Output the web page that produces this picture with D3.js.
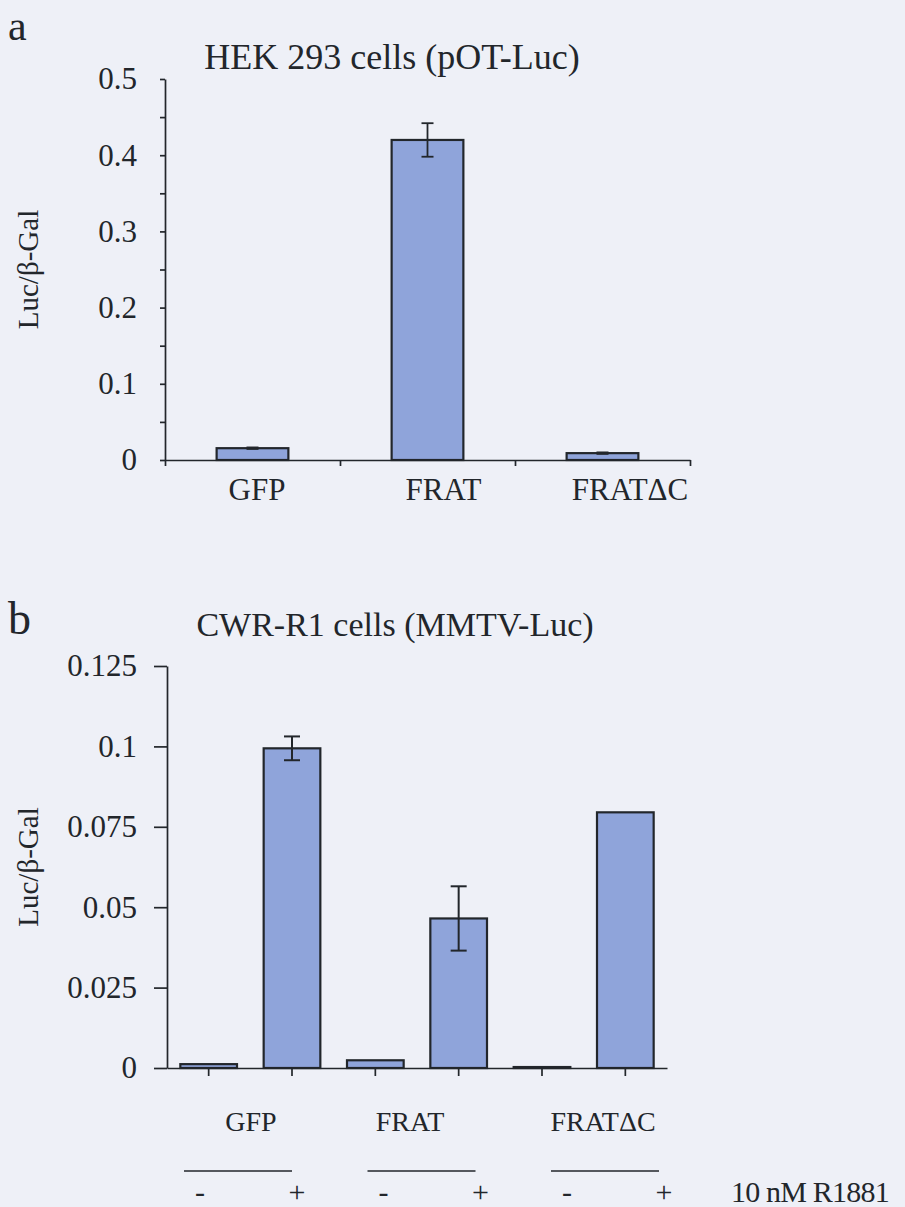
<!DOCTYPE html>
<html>
<head>
<meta charset="utf-8">
<script src="https://cdn.jsdelivr.net/npm/d3@7"></script>
<style>
  body { margin: 0; background: #eef0f7; }
  svg { display: block; }
  text { font-family: "Liberation Serif", "Tinos", "Times New Roman", "DejaVu Serif", serif; fill: #22262b; }
  .axis path, .axis line { stroke: #22262b; stroke-width: 1.7; }
</style>
</head>
<body>
<div id="chart"></div>
<script>
// panel a data
const catsA = ["GFP", "FRAT", "FRATΔC"];
const valsA = [0.0155, 0.420, 0.009];
const errA = [0.001, 0.022, 0.001];
const ticksA = [0, 0.05, 0.1, 0.15, 0.2, 0.25, 0.3, 0.35, 0.4, 0.45, 0.5];

// panel b data
const groupsB = ["GFP", "FRAT", "FRATΔC"];
const treatB = ["-", "+"];
const valsB = [0.0012, 0.0994, 0.0024, 0.0465, 0.0003, 0.0795];
const errB = [0, 0.0037, 0, 0.0100, 0, 0];
const ticksB = [0, 0.025, 0.05, 0.075, 0.1, 0.125];

const W = 905, H = 1207;
const ink = "#22262b";
const barFill = "#8fa4da";
const serif = '"Liberation Serif", "Tinos", "Times New Roman", "DejaVu Serif", serif';

const svg = d3.select("#chart").append("svg")
    .attr("width", W).attr("height", H)
    .attr("font-family", serif);

svg.append("rect").attr("width", W).attr("height", H).attr("fill", "#eef0f7");

/* ---------- panel a ---------- */
const a = {left: 165, right: 690, top: 79, bottom: 460};

let yA = d3.scaleLinear().domain([0, 0.5]).range([a.bottom, a.top]);
let xA = d3.scaleBand().domain(catsA).range([a.left, a.right])
    .paddingInner(0.59).paddingOuter(0.295);
let xALin = d3.scaleLinear().domain([0, catsA.length]).range([a.left, a.right]);

svg.append("text").attr("x", 8).attr("y", 40)
    .attr("font-size", 42).text("a");

svg.append("text").attr("x", 392).attr("y", 69)
    .attr("text-anchor", "middle").attr("font-size", 36)
    .text("HEK 293 cells (pOT-Luc)");

svg.append("text")
    .attr("transform", `translate(38,${(a.top + a.bottom) / 2}) rotate(-90)`)
    .attr("text-anchor", "middle").attr("font-size", 29)
    .text("Luc/β-Gal");

// bars
svg.append("g").selectAll("rect").data(catsA).enter().append("rect")
    .attr("x", d => xA(d))
    .attr("width", xA.bandwidth())
    .attr("y", (d, i) => yA(valsA[i]))
    .attr("height", (d, i) => yA(0) - yA(valsA[i]))
    .attr("fill", barFill).attr("stroke", ink).attr("stroke-width", 2.2);

// error bars
let errGA = svg.append("g").attr("stroke", ink).attr("stroke-width", 1.8);
catsA.forEach((c, i) => {
    let cx = xA(c) + xA.bandwidth() / 2;
    let hi = yA(valsA[i] + errA[i]), lo = yA(valsA[i] - errA[i]);
    errGA.append("line").attr("x1", cx).attr("x2", cx).attr("y1", hi).attr("y2", lo);
    errGA.append("line").attr("x1", cx - 6).attr("x2", cx + 6).attr("y1", hi).attr("y2", hi);
    errGA.append("line").attr("x1", cx - 6).attr("x2", cx + 6).attr("y1", lo).attr("y2", lo);
});

// y axis
svg.append("g").attr("class", "axis")
    .attr("transform", `translate(${a.left},0)`)
    .call(d3.axisLeft(yA).tickValues(ticksA).tickSize(5).tickSizeOuter(0).tickPadding(23)
        .tickFormat(d => Math.round(d * 100) % 10 === 0 ? String(+d.toFixed(1)) : ""))
    .call(g => g.attr("font-family", serif))
    .call(g => g.selectAll("text").attr("font-size", 31).attr("fill", ink));

// x axis, ticks between categories
svg.append("g").attr("class", "axis")
    .attr("transform", `translate(0,${a.bottom})`)
    .call(d3.axisBottom(xALin).tickValues(d3.range(0, catsA.length + 1)).tickSize(6)
        .tickSizeOuter(0).tickFormat(""));

let labelXA = d3.scaleLinear().domain([0, 2]).range([257, 630]);
svg.append("g").selectAll("text").data(catsA).enter().append("text")
    .attr("x", (d, i) => labelXA(i)).attr("y", 500)
    .attr("text-anchor", "middle").attr("font-size", 31)
    .text(d => d);

/* ---------- panel b ---------- */
const b = {left: 167, right: 667, top: 666, bottom: 1068};
const slotsB = [];
groupsB.forEach(g => treatB.forEach(t => slotsB.push(g + t)));

let yB = d3.scaleLinear().domain([0, 0.125]).range([b.bottom, b.top]);
let xB = d3.scaleBand().domain(slotsB).range([b.left, b.right])
    .paddingInner(0.32).paddingOuter(0.16);

svg.append("text").attr("x", 8).attr("y", 634)
    .attr("font-size", 46).text("b");

svg.append("text").attr("x", 395).attr("y", 636)
    .attr("text-anchor", "middle").attr("font-size", 34)
    .text("CWR-R1 cells (MMTV-Luc)");

svg.append("text")
    .attr("transform", `translate(38,${(b.top + b.bottom) / 2}) rotate(-90)`)
    .attr("text-anchor", "middle").attr("font-size", 29)
    .text("Luc/β-Gal");

svg.append("g").selectAll("rect").data(slotsB).enter().append("rect")
    .attr("x", d => xB(d))
    .attr("width", xB.bandwidth())
    .attr("y", (d, i) => yB(valsB[i]))
    .attr("height", (d, i) => yB(0) - yB(valsB[i]))
    .attr("fill", barFill).attr("stroke", ink).attr("stroke-width", 2.2);

let errGB = svg.append("g").attr("stroke", ink).attr("stroke-width", 2);
slotsB.forEach((s, i) => {
    if (!errB[i]) return;
    let cx = xB(s) + xB.bandwidth() / 2;
    let hi = yB(valsB[i] + errB[i]), lo = yB(valsB[i] - errB[i]);
    errGB.append("line").attr("x1", cx).attr("x2", cx).attr("y1", hi).attr("y2", lo);
    errGB.append("line").attr("x1", cx - 8).attr("x2", cx + 8).attr("y1", hi).attr("y2", hi);
    errGB.append("line").attr("x1", cx - 8).attr("x2", cx + 8).attr("y1", lo).attr("y2", lo);
});

svg.append("g").attr("class", "axis")
    .attr("transform", `translate(${b.left},0)`)
    .call(d3.axisLeft(yB).tickValues(ticksB).tickSize(13).tickSizeOuter(0).tickPadding(17)
        .tickFormat(d => String(+d.toFixed(3))))
    .call(g => g.attr("font-family", serif))
    .call(g => g.selectAll("text").attr("font-size", 31).attr("fill", ink));

svg.append("g").attr("class", "axis")
    .attr("transform", `translate(0,${b.bottom})`)
    .call(d3.axisBottom(xB).tickSize(8).tickSizeOuter(0).tickFormat(""));

// group labels and treatment row under the axis
let labelXB = d3.scaleLinear().domain([0, 1, 2]).range([251, 410, 603]);
svg.append("g").selectAll("text").data(groupsB).enter().append("text")
    .attr("x", (d, i) => labelXB(i)).attr("y", 1131)
    .attr("text-anchor", "middle").attr("font-size", 28)
    .text(d => d);

let minusX = d3.scaleLinear().domain([0, 2]).range([200, 567]);
let rowG = svg.append("g");
groupsB.forEach((g, i) => {
    rowG.append("line")
        .attr("x1", minusX(i) - 16).attr("x2", minusX(i) + 92)
        .attr("y1", 1171).attr("y2", 1171)
        .attr("stroke", ink).attr("stroke-width", 1.6);
    treatB.forEach((t, j) => {
        rowG.append("text")
            .attr("x", minusX(i) + j * 97).attr("y", 1202)
            .attr("text-anchor", "middle").attr("font-size", 30)
            .text(t);
    });
});

svg.append("text").attr("x", 731).attr("y", 1202)
    .attr("font-size", 30).attr("letter-spacing", -0.8)
    .text("10 nM R1881");
</script>
</body>
</html>
